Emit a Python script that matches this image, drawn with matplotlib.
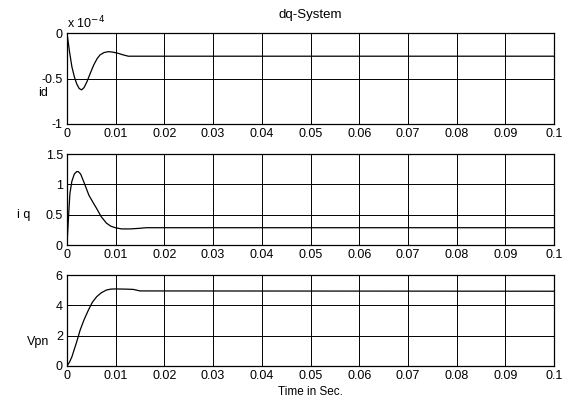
import matplotlib
matplotlib.use("Agg")
import matplotlib.pyplot as plt
import numpy as np

plt.rcParams['font.family'] = ['Liberation Sans', 'DejaVu Sans']
plt.rcParams['font.size'] = 8

# Data (time in s)
t_id = [0, 0.0005, 0.001, 0.0015, 0.002, 0.0025, 0.003, 0.0035, 0.0041, 0.0048, 0.0055, 0.0062,
        0.0068, 0.0076, 0.0085, 0.0094, 0.0103, 0.0115, 0.0126, 0.1]
id_vals = [0, -0.2, -0.37, -0.48, -0.56, -0.61, -0.625, -0.6, -0.535, -0.44, -0.35, -0.28,
           -0.24, -0.215, -0.205, -0.21, -0.22, -0.24, -0.255, -0.255]

t_iq = [0, 0.0003, 0.0006, 0.001, 0.0015, 0.002, 0.0023, 0.0028, 0.0035, 0.0045, 0.0055, 0.0061,
        0.007, 0.0081, 0.009, 0.0099, 0.0112, 0.013, 0.0149, 0.0163, 0.1]
iq_vals = [0, 0.45, 0.85, 1.05, 1.17, 1.21, 1.21, 1.17, 1.03, 0.82, 0.68, 0.6,
           0.47, 0.36, 0.31, 0.285, 0.265, 0.265, 0.275, 0.285, 0.285]

t_v = [0, 0.0005, 0.001, 0.0015, 0.002, 0.0027, 0.0035, 0.0044, 0.0052, 0.0061, 0.007, 0.0081,
       0.009, 0.0099, 0.012, 0.0136, 0.015, 0.1]
v_vals = [0, 0.25, 0.6, 1.1, 1.6, 2.37, 3.05, 3.69, 4.2, 4.57, 4.82, 5.01,
          5.07, 5.08, 5.07, 5.05, 4.95, 4.93]

xticks = [0, 0.01, 0.02, 0.03, 0.04, 0.05, 0.06, 0.07, 0.08, 0.09, 0.1]
xticklabels = ['0', '0.01', '0.02', '0.03', '0.04', '0.05', '0.06', '0.07', '0.08', '0.09', '0.1']

W, H = 562, 401
fig = plt.figure(figsize=(W/100, H/100), dpi=100)

def add_ax(top, bottom):
    l, r = 67, 554
    return fig.add_axes([l/W, 1 - bottom/H, (r-l)/W, (bottom-top)/H])

ax1 = add_ax(33, 124)
ax2 = add_ax(154, 245)
ax3 = add_ax(275, 366)

specs = [
    (ax1, t_id, id_vals, (-1, 0), [-1, -0.5, 0], ['-1', '-0.5', '0']),
    (ax2, t_iq, iq_vals, (0, 1.5), [0, 0.5, 1, 1.5], ['0', '0.5', '1', '1.5']),
    (ax3, t_v, v_vals, (0, 6), [0, 2, 4, 6], ['0', '2', '4', '6']),
]
for ax, t, y, yl, yt, ytl in specs:
    ax.plot(t, y, color='black', lw=0.9)
    ax.set_xlim(0, 0.1)
    ax.set_ylim(*yl)
    ax.set_xticks(xticks)
    ax.set_xticklabels(xticklabels)
    ax.set_yticks(yt)
    ax.set_yticklabels(ytl)
    ax.grid(True, color='black', lw=0.7, ls='-')
    ax.tick_params(direction='in', length=3, width=0.7, pad=3, labelsize=9)
    for s in ax.spines.values():
        s.set_linewidth(0.9)

fig.text(310/W, 1 - 15/H, 'dq-System', ha='center', va='center', fontsize=9.5)
fig.text(67/W, 1 - 23/H, r'x 10$^{-4}$', ha='left', va='center', fontsize=9)
fig.text(43/W, 1 - 93/H, 'id', ha='center', va='center', fontsize=9)
fig.text(24/W, 1 - 215/H, 'i q', ha='center', va='center', fontsize=9)
fig.text(38/W, 1 - 342/H, 'Vpn', ha='center', va='center', fontsize=9)
fig.text(310/W, 1 - 392/H, 'Time in Sec.', ha='center', va='center', fontsize=8.5)

fig.savefig('out.png', dpi=100)
